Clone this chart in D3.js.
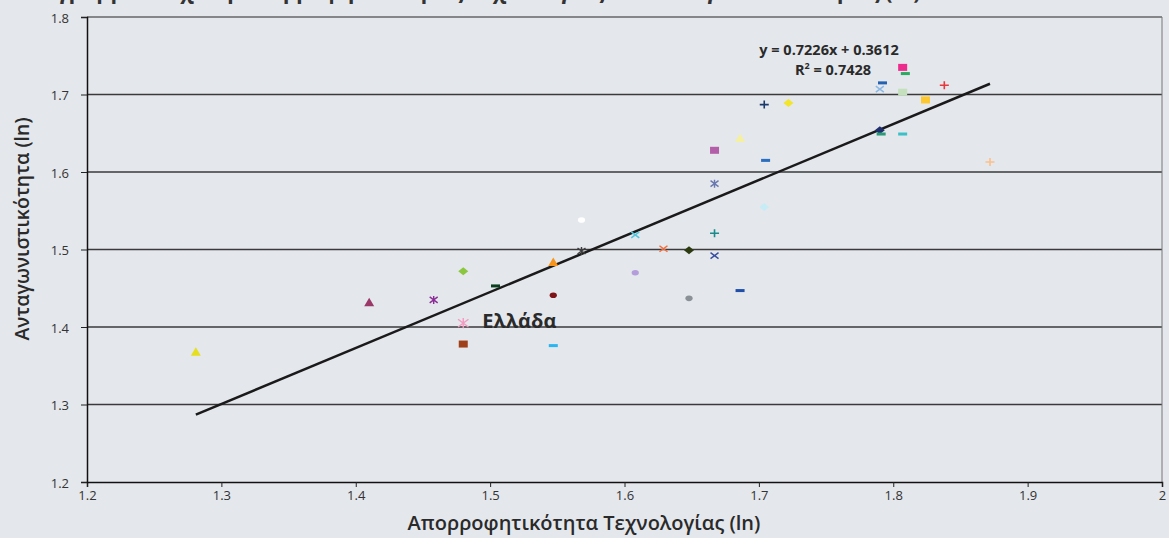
<!DOCTYPE html>
<html><head><meta charset="utf-8">
<script src="https://cdn.jsdelivr.net/npm/d3@7"></script>
<style>
html,body{margin:0;padding:0;background:#e4e7ec;}
svg{display:block;}
</style></head>
<body>
<div id="chart"></div>
<script>
// ---- data ----
const titleText = "Διάγραμμα 5: Σχέση Απορροφητικότητας Τεχνολογίας και Ανταγωνιστικότητας (ln)";
const xTitle = "Απορροφητικότητα Τεχνολογίας (ln)";
const yTitle = "Ανταγωνιστικότητα (ln)";
const xTicks = [1.2, 1.3, 1.4, 1.5, 1.6, 1.7, 1.8, 1.9, 2];
const yTicks = [1.2, 1.3, 1.4, 1.5, 1.6, 1.7, 1.8];
const xValues = [1.281, 1.410, 1.458, 1.480, 1.480, 1.480, 1.504, 1.547, 1.547, 1.547,
                 1.568, 1.568, 1.608, 1.608, 1.629, 1.648, 1.648, 1.667, 1.667, 1.686,
                 1.704, 1.667, 1.667, 1.686, 1.705, 1.704, 1.722, 1.807, 1.809, 1.792,
                 1.790, 1.807, 1.838, 1.824, 1.790, 1.791, 1.807, 1.872];
const yValues = [1.368, 1.432, 1.435, 1.472, 1.405, 1.378, 1.453, 1.484, 1.441, 1.376,
                 1.538, 1.498, 1.519, 1.470, 1.501, 1.499, 1.437, 1.521, 1.492, 1.447,
                 1.555, 1.628, 1.585, 1.644, 1.615, 1.687, 1.689, 1.735, 1.727, 1.715,
                 1.707, 1.703, 1.712, 1.693, 1.654, 1.649, 1.649, 1.613];
const greeceIndex = 4;
const greeceLabel = "Ελλάδα";
const trendSlope = 0.7226, trendIntercept = 0.3612;
const equationLines = ["y = 0.7226x + 0.3612", "R2 = 0.7428"];

// ---- styles ----
const markerShapes = ["triangle","triangle","asterisk","diamond","asterisk","square","dash","triangle","circle","dash",
  "circle","asterisk","x","circle","x","diamond","circle","plus","x","dash",
  "diamond","square","asterisk","triangle","dash","plus","diamond","square","dash","dash",
  "x","square","plus","square","diamond","dash","dash","plus"];
const markerColors = ["#e6df1e","#9a3868","#8a2e96","#8cc63f","#f49ac1","#a0401a","#0b3d1f","#f7941d","#7f1416","#29b6f0",
  "#ffffff","#3d3d3d","#4fc6dc","#b39ddb","#f26c3a","#2d3a10","#8a9196","#1a8a8a","#3a4ea0","#1f4fa8",
  "#c8ecf5","#b25ea8","#6a78b0","#f4f0a0","#2a6ec0","#1b3a6b","#f2e52a","#ec2b8c","#2bab5f","#2461b0",
  "#8ab8e6","#c4e0bc","#e8383d","#fdc82f","#1f2f6b","#2a9a78","#3cc0c8","#fbc08a"];

const W = 1169, H = 538;
const margin = {left: 87, right: 7, top: 17, bottom: 56};
const svg = d3.select("#chart").append("svg").attr("width", W).attr("height", H);
svg.append("rect").attr("width", W).attr("height", H).attr("fill", "#e4e7ec");

const x = d3.scaleLinear().domain([1.2, 2]).range([margin.left, W - margin.right]);
const y = d3.scaleLinear().domain([1.2, 1.8]).range([H - margin.bottom, margin.top]);

const font = "'Open Sans','Noto Sans','DejaVu Sans',sans-serif";

// title (cut off at top, as in the source)
svg.append("text").attr("x", 20).attr("y", -1)
  .attr("font-family", font).attr("font-weight", 700).attr("font-size", 21.5)
  .attr("fill", "#333").text(titleText);

// gridlines
svg.append("g").selectAll("line").data(yTicks.filter(t => t > 1.2 && t < 1.8)).join("line")
  .attr("x1", x(1.2)).attr("x2", x(2)).attr("y1", d => y(d)).attr("y2", d => y(d))
  .attr("stroke", "#3a3a3a").attr("stroke-width", 1.4);
// top & right border
svg.append("line").attr("x1", x(1.2)).attr("x2", x(2)).attr("y1", y(1.8)).attr("y2", y(1.8))
  .attr("stroke", "#666").attr("stroke-width", 1.5);
svg.append("line").attr("x1", x(2)).attr("x2", x(2)).attr("y1", y(1.8)).attr("y2", y(1.2))
  .attr("stroke", "#777").attr("stroke-width", 1);

// axes
const xAxis = d3.axisBottom(x).tickValues(xTicks).tickSize(5).tickPadding(4)
  .tickFormat(d => d === 2 ? "2" : d3.format(".1f")(d));
const gx = svg.append("g").attr("transform", `translate(0,${y(1.2)})`).call(xAxis);
const yAxis = d3.axisLeft(y).tickValues(yTicks).tickSize(6).tickPadding(12).tickFormat(d3.format(".1f"));
const gy = svg.append("g").attr("transform", `translate(${x(1.2)},0)`).call(yAxis);
[gx, gy].forEach(g => {
  g.select(".domain").attr("stroke", "#111").attr("stroke-width", 1.5);
  g.selectAll(".tick line").attr("stroke", "#222").attr("stroke-width", 1);
  g.selectAll(".tick text").attr("font-family", font).attr("font-size", 13).attr("fill", "#333");
});
gy.selectAll(".tick text").attr("dy", "0.4em");

// axis titles
svg.append("text").attr("x", 584).attr("y", 530).attr("text-anchor", "middle")
  .attr("font-family", font).attr("font-weight", 600).attr("font-size", 20).attr("fill", "#2a2a2a").text(xTitle);
svg.append("text").attr("transform", "translate(29,229) rotate(-90)").attr("text-anchor", "middle")
  .attr("font-family", font).attr("font-weight", 600).attr("font-size", 19.5).attr("fill", "#2a2a2a").text(yTitle);

// trend line
const xMin = d3.min(xValues), xMax = d3.max(xValues);
svg.append("line")
  .attr("x1", x(xMin)).attr("y1", y(trendSlope * xMin + trendIntercept))
  .attr("x2", x(xMax)).attr("y2", y(trendSlope * xMax + trendIntercept))
  .attr("stroke", "#1a1a1a").attr("stroke-width", 2.5);

// markers
const pts = xValues.map((v, i) => ({x: v, y: yValues[i], shape: markerShapes[i], color: markerColors[i]}));
const gm = svg.append("g");
pts.forEach((p, i) => {
  const cx = x(p.x), cy = y(p.y);
  const g = gm.append("g").attr("transform", `translate(${cx},${cy})`);
  const c = p.color;
  switch (p.shape) {
    case "triangle":
      g.append("path").attr("d", "M0,-4.5L5,4L-5,4Z").attr("fill", c); break;
    case "diamond":
      g.append("path").attr("d", "M0,-4L5,0L0,4L-5,0Z").attr("fill", c); break;
    case "square":
      g.append("rect").attr("x", -4.5).attr("y", -3.5).attr("width", 9).attr("height", 7).attr("fill", c); break;
    case "dash":
      g.append("rect").attr("x", -4.5).attr("y", -1.5).attr("width", 9).attr("height", 3).attr("fill", c); break;
    case "circle":
      g.append("ellipse").attr("rx", 3.6).attr("ry", 2.8).attr("fill", c); break;
    case "plus":
      g.append("path").attr("d", "M-4.5,0H4.5M0,-4V4").attr("stroke", c).attr("stroke-width", 1.6).attr("fill", "none"); break;
    case "x":
      g.append("path").attr("d", "M-4,-3L4,3M-4,3L4,-3").attr("stroke", c).attr("stroke-width", 1.5).attr("fill", "none"); break;
    case "asterisk": {
      const s = (i === greeceIndex) ? 1.3 : 1;
      g.append("path").attr("d", `M${-4*s},${-3*s}L${4*s},${3*s}M${-4*s},${3*s}L${4*s},${-3*s}M0,${-4*s}V${4*s}`)
        .attr("stroke", c).attr("stroke-width", 1.4).attr("fill", "none"); break;
    }
  }
});

// Greece label
svg.append("text").attr("x", x(xValues[greeceIndex]) + 19).attr("y", y(yValues[greeceIndex]) + 5)
  .attr("font-family", font).attr("font-weight", 700).attr("font-size", 20).attr("fill", "#2a2a2a").text(greeceLabel);

// equation
const eq = svg.append("g").attr("font-family", font).attr("font-weight", 700).attr("font-size", 14.5).attr("fill", "#2a2a2a");
eq.append("text").attr("x", 829).attr("y", 55).attr("text-anchor", "middle").text(equationLines[0]);
const r2 = eq.append("text").attr("x", 833).attr("y", 75).attr("text-anchor", "middle");
r2.append("tspan").text("R");
r2.append("tspan").attr("font-size", 9).attr("dy", -6).text("2");
r2.append("tspan").attr("dy", 6).text(" = 0.7428");
</script>
</body></html>
